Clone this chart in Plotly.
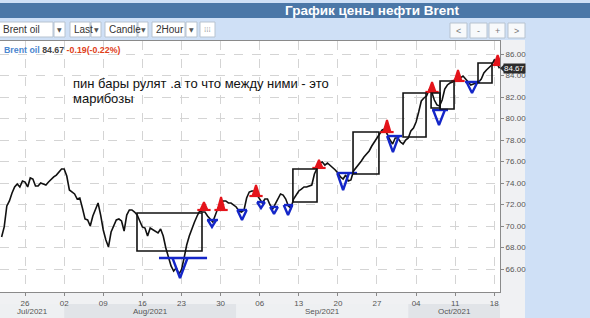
import numpy as np
import pandas as pd
import plotly.graph_objects as go

# ---------------- data ----------------
SESSION_START = "2021-07-21"
SESSION_END = "2021-10-18"
SESSION_HOURS = [0, 8, 16]          # three samples per trading day

PRICE = [68.98, 69.91, 71.86, 72.33, 73.07, 73.63, 73.91, 73.63, 74.19, 74.09,
         73.63, 74.47, 74.37, 73.72, 73.72, 74.00, 73.91, 73.81, 74.09, 74.37,
         74.56, 74.74, 75.02, 75.30, 75.30, 74.65, 73.35, 73.16, 72.98, 72.51,
         72.60, 71.67, 70.65, 70.56, 70.00, 70.93, 71.58, 72.14, 71.02, 69.63,
         68.70, 68.05, 69.44, 70.00, 70.56, 70.65, 70.47, 69.53, 71.02, 71.49,
         71.49, 71.30, 71.02, 70.47, 69.91, 69.81, 69.07, 69.81, 69.63, 69.53,
         69.35, 69.72, 69.07, 67.95, 67.02, 66.28, 65.81, 66.09, 65.53, 65.91,
         67.02, 68.23, 69.07, 69.81, 70.37, 70.93, 71.40, 71.30, 71.30, 70.93,
         70.65, 70.37, 71.02, 71.67, 72.05, 72.33, 72.33, 72.14, 72.14, 71.95,
         71.77, 71.40, 71.30, 71.49, 72.60, 73.16, 73.26, 73.26, 72.88, 72.42,
         72.14, 72.51, 72.51, 71.95, 71.58, 72.05, 72.60, 72.98, 72.88, 72.51,
         71.86, 71.67, 72.51, 72.88, 73.26, 73.44, 73.63, 73.63, 73.72, 73.81,
         74.84, 75.40, 75.86, 75.95, 75.67, 75.86, 75.67, 75.40, 75.21, 74.93,
         74.56, 74.37, 74.74, 74.19, 74.28, 75.12, 75.40, 75.77, 76.05, 76.42,
         76.70, 76.98, 77.44, 77.81, 78.09, 78.56, 78.93, 79.02, 78.47, 78.00,
         77.63, 78.19, 78.19, 77.81, 77.63, 78.00, 78.19, 78.84, 79.12, 79.67,
         80.60, 81.63, 81.91, 82.09, 82.65, 82.47, 81.72, 81.26, 81.16, 81.72,
         82.74, 83.12, 83.30, 83.40, 83.67, 83.95, 83.77, 83.95, 83.67, 83.40,
         83.12, 83.21, 83.30, 83.40, 83.67, 84.23, 84.51, 84.79, 84.98, 85.44,
         85.16, 84.67]
LAST_PRICE = 84.67

TICK_DATES = ["2021-07-26", "2021-08-02", "2021-08-09", "2021-08-16", "2021-08-23",
              "2021-08-30", "2021-09-06", "2021-09-13", "2021-09-20", "2021-09-27",
              "2021-10-04", "2021-10-11", "2021-10-18"]
TICK_LABELS = ["26", "02", "09", "16", "23", "30", "06", "13", "20", "27", "04", "11", "18"]
Y_TICKS = [66, 68, 70, 72, 74, 76, 78, 80, 82, 84, 86]

MONTH_LABELS = ["Jul/2021", "Aug/2021", "Sep/2021", "Oct/2021"]
MONTH_STARTS = ["2021-07-01", "2021-08-01", "2021-09-01", "2021-10-01"]
MONTH_ENDS = ["2021-08-01", "2021-09-01", "2021-10-01", "2021-11-01"]

# red pin bars (bearish)  : time, apex, base
RED_TIME = ["2021-08-25 21:00", "2021-08-30 01:30", "2021-09-03 12:45", "2021-09-15 14:00",
            "2021-09-28 06:45", "2021-10-06 01:00", "2021-10-11 08:40", "2021-10-18 10:20"]
RED_TOP = [72.23, 72.70, 73.81, 76.14, 79.86, 83.40, 84.51, 85.91]
RED_BASE = [71.49, 71.49, 72.79, 75.40, 78.74, 82.47, 83.49, 84.98]

# blue pin bars (bullish) : time, top line, tip, line start/end, leg half-width (days)
BLUE_TIME = ["2021-08-20 19:30", "2021-08-26 21:40", "2021-09-01 17:45", "2021-09-06 04:00",
             "2021-09-07 20:00", "2021-09-09 15:00", "2021-09-20 16:00", "2021-09-29 01:00",
             "2021-10-06 22:20", "2021-10-13 03:40"]
BLUE_TOP = [67.02, 70.56, 71.49, 72.23, 71.77, 71.95, 74.93, 78.37, 80.79, 83.40]
BLUE_TIP = [65.16, 69.91, 70.56, 71.67, 71.12, 71.02, 73.35, 76.88, 79.40, 82.37]
BLUE_LINE_FROM = ["2021-08-18 03:00", "2021-08-26 06:30", "2021-09-01 02:30", "2021-09-03 16:00",
                  "2021-09-07 07:40", "2021-09-09 02:40", "2021-09-17 21:20", "2021-09-28 06:45",
                  "2021-10-06 01:00", "2021-10-12 06:15"]
BLUE_LINE_TO = ["2021-08-26 06:30", "2021-08-27 16:00", "2021-09-02 09:00", "2021-09-06 16:00",
                "2021-09-08 08:30", "2021-09-10 06:15", "2021-09-22 10:50", "2021-09-30 04:50",
                "2021-10-08 02:00", "2021-10-14 04:20"]
BLUE_HALF = [0.96, 0.55, 0.6, 0.5, 0.5, 0.55, 0.75, 0.75, 0.75, 0.7]

# consolidation boxes
BOX_FROM = ["2021-08-13 07:30", "2021-09-10 06:00", "2021-09-21 22:30", "2021-09-30 08:00",
            "2021-10-05 22:00", "2021-10-07 01:30", "2021-10-13 22:00"]
BOX_TO = ["2021-08-25 15:00", "2021-09-15 08:00", "2021-09-27 06:00", "2021-10-05 06:30",
          "2021-10-07 01:30", "2021-10-08 20:30", "2021-10-15 17:00"]
BOX_TOP = [71.21, 75.30, 78.74, 82.37, 82.37, 83.49, 85.16]
BOX_BOTTOM = [67.67, 72.23, 74.84, 78.28, 80.98, 80.88, 83.30]

NOTE_LINES = ["пин бары рулят .а то что между ними - это", "марибозы"]
TITLE = "График цены нефти Brent"


# ------------- trading-day axis (weekends skipped) -------------
def tday(ts):
    ts = pd.Timestamp(ts)
    return float(np.busday_count(SESSION_START, ts.strftime("%Y-%m-%d"))) + (ts.hour + ts.minute / 60) / 24


days = pd.bdate_range(SESSION_START, SESSION_END)
times = [d + pd.Timedelta(hours=h) for d in days for h in SESSION_HOURS]
X = [tday(t) for t in times]

X_RANGE = [-0.205, 63.73]
Y_RANGE = [63.86, 87.21]

FONT = "Liberation Sans, Arial, sans-serif"
RED = "#e4141b"
BLUE = "#1426c8"

fig = go.Figure()

fig.add_trace(go.Scatter(x=X, y=PRICE, mode="lines",
                         line=dict(color="#111111", width=1.6), hoverinfo="skip"))

# red "A" pin bars: filled triangle + base bar
tx, ty, lx, ly = [], [], [], []
for t, top, base in zip(RED_TIME, RED_TOP, RED_BASE):
    c = tday(t)
    tx += [c - 0.45, c, c + 0.45, c - 0.45, None]
    ty += [base, top, base, base, None]
    lx += [c - 0.85, c + 0.85, None]
    ly += [base, base, None]
fig.add_trace(go.Scatter(x=tx, y=ty, mode="lines", fill="toself", fillcolor=RED,
                         line=dict(color=RED, width=2), hoverinfo="skip"))
fig.add_trace(go.Scatter(x=lx, y=ly, mode="lines", line=dict(color=RED, width=2.2), hoverinfo="skip"))

# blue "V" pin bars
bx, by = [], []
for t, top, tip, f, e, hw in zip(BLUE_TIME, BLUE_TOP, BLUE_TIP, BLUE_LINE_FROM, BLUE_LINE_TO, BLUE_HALF):
    c = tday(t)
    bx += [c - hw, c, c + hw, None, tday(f), tday(e), None]
    by += [top, tip, top, None, top, top, None]
fig.add_trace(go.Scatter(x=bx, y=by, mode="lines", line=dict(color=BLUE, width=2.4), hoverinfo="skip"))

shapes = []
for f, e, top, bot in zip(BOX_FROM, BOX_TO, BOX_TOP, BOX_BOTTOM):
    shapes.append(dict(type="rect", xref="x", yref="y", x0=tday(f), x1=tday(e), y0=bot, y1=top,
                       line=dict(color="#111111", width=1.6), fillcolor="rgba(0,0,0,0)", layer="above"))


# -------- page chrome (paper coordinates) --------
PLOT_W, PLOT_TOP, PLOT_BOTTOM = 500.0, 41.0, 292.0


def px(x):
    return x / PLOT_W


def py(y):
    return (PLOT_BOTTOM - y) / (PLOT_BOTTOM - PLOT_TOP)


PANEL = "#f0f1f3"
# grey panel around the plot (right strip + bottom strip)
shapes.append(dict(type="rect", xref="paper", yref="paper", x0=px(500), x1=px(525), y0=py(330), y1=py(40),
                   fillcolor=PANEL, line=dict(width=0), layer="below"))
shapes.append(dict(type="rect", xref="paper", yref="paper", x0=px(-5), x1=px(500), y0=py(330), y1=py(292),
                   fillcolor=PANEL, line=dict(width=0), layer="below"))
# title bar
shapes.append(dict(type="rect", xref="paper", yref="paper", x0=px(-5), x1=px(595), y0=py(18), y1=py(3),
                   fillcolor="#4b77a7", line=dict(width=0), layer="below"))

annotations = []
annotations.append(dict(xref="paper", yref="paper", x=px(372), y=py(10.5), text="<b>" + TITLE + "</b>",
                        showarrow=False, font=dict(family=FONT, size=13.5, color="white"),
                        xanchor="center", yanchor="middle"))

# toolbar drop-downs
DROPS = [("Brent oil", -6, 53, 65), ("Last", 70, 90, 101), ("Candle", 105, 137, 148), ("2Hour", 152, 185, 197)]
for label, x0, xa, x1 in DROPS:
    shapes.append(dict(type="rect", xref="paper", yref="paper", x0=px(x0), x1=px(xa), y0=py(37), y1=py(22),
                       fillcolor="white", line=dict(color="#b7c3d0", width=1), layer="below"))
    shapes.append(dict(type="rect", xref="paper", yref="paper", x0=px(xa + 1), x1=px(x1), y0=py(37), y1=py(22),
                       fillcolor="white", line=dict(color="#b7c3d0", width=1), layer="below"))
    annotations.append(dict(xref="paper", yref="paper", x=px(max(x0 + 2, 0.5)), y=py(29.5), text=label,
                            showarrow=False, xanchor="left", yanchor="middle",
                            font=dict(family=FONT, size=10, color="#333333")))
    annotations.append(dict(xref="paper", yref="paper", x=px((xa + 1 + x1) / 2), y=py(29.5), text="▼",
                            showarrow=False, xanchor="center", yanchor="middle",
                            font=dict(family="DejaVu Sans", size=6, color="#555555")))
shapes.append(dict(type="rect", xref="paper", yref="paper", x0=px(200), x1=px(215), y0=py(37), y1=py(22),
                   fillcolor="white", line=dict(color="#b7c3d0", width=1), layer="below"))
annotations.append(dict(xref="paper", yref="paper", x=px(207.5), y=py(29.5), text="⁞⁞⁞", showarrow=False,
                        xanchor="center", yanchor="middle", font=dict(family="DejaVu Sans", size=7, color="#999999")))

# navigation buttons
for label, x0, x1 in [("<", 450, 467), ("-", 470, 487), ("+", 489, 505), (">", 508, 525)]:
    shapes.append(dict(type="rect", xref="paper", yref="paper", x0=px(x0), x1=px(x1), y0=py(38), y1=py(23),
                       fillcolor="#f7f9fb", line=dict(color="#b7c3d0", width=1), layer="below"))
    annotations.append(dict(xref="paper", yref="paper", x=px((x0 + x1) / 2), y=py(30.5), text=label,
                            showarrow=False, xanchor="center", yanchor="middle",
                            font=dict(family=FONT, size=9, color="#777777")))

# instrument header
annotations.append(dict(xref="paper", yref="paper", x=px(2), y=py(50), xanchor="left", yanchor="middle",
                        showarrow=False, font=dict(family=FONT, size=8.8),
                        text='<b><span style="color:#4a86d0">Brent oil</span> '
                             '<span style="color:#444444">84.67</span> '
                             '<span style="color:#e0401a">-0.19(-0.22%)</span></b>'))

# note text
for i, line in enumerate(NOTE_LINES):
    annotations.append(dict(xref="paper", yref="paper", x=px(71), y=py(83 + 15 * i), text=line,
                            showarrow=False, xanchor="left", yanchor="middle",
                            font=dict(family=FONT, size=13, color="#111111")))

# month band under the date axis
MONTH_FILL = ["#eef0f2", "#e1e4e8", "#eef0f2", "#e1e4e8"]
for lab, s, e, col in zip(MONTH_LABELS, MONTH_STARTS, MONTH_ENDS, MONTH_FILL):
    a = max(tday(s), X_RANGE[0])
    b = min(tday(e), X_RANGE[1])
    shapes.append(dict(type="rect", xref="x", yref="paper", x0=a, x1=b, y0=py(318), y1=py(304),
                       fillcolor=col, line=dict(width=0), layer="below"))
    annotations.append(dict(xref="x", yref="paper", x=(a + b) / 2, y=py(311), text=lab, showarrow=False,
                            xanchor="center", yanchor="middle", font=dict(family=FONT, size=8, color="#555555")))

# last price tag
annotations.append(dict(xref="paper", yref="y", x=1.0, y=LAST_PRICE, xanchor="left", yanchor="middle",
                        xshift=3, text="84.67", showarrow=False, bgcolor="#2d2d2d", borderpad=0,
                        font=dict(family=FONT, size=8, color="white")))
shapes.append(dict(type="path", xref="paper", yref="y",
                   path=f"M 1.0,{LAST_PRICE} L {px(504)},{LAST_PRICE + 0.35} L {px(504)},{LAST_PRICE - 0.35} Z",
                   fillcolor="#2d2d2d", line=dict(width=0)))

fig.update_layout(
    width=590, height=318,
    margin=dict(l=0, r=90, t=41, b=26),
    paper_bgcolor="#cfe0f6", plot_bgcolor="white",
    showlegend=False,
    shapes=shapes, annotations=annotations,
    xaxis=dict(range=X_RANGE, tickmode="array", tickvals=[tday(d) for d in TICK_DATES], ticktext=TICK_LABELS,
               ticks="outside", ticklen=3, tickcolor="#888888",
               tickfont=dict(family=FONT, size=8, color="#555555"),
               showgrid=True, gridcolor="#d4d4d4", griddash="dash", gridwidth=1,
               showline=True, linecolor="#8a8a8a", linewidth=1, mirror=True, zeroline=False, fixedrange=True),
    yaxis=dict(range=Y_RANGE, side="right", tickmode="array", tickvals=Y_TICKS,
               ticktext=[f"{v:.2f}" for v in Y_TICKS],
               ticks="outside", ticklen=3, tickcolor="#888888",
               tickfont=dict(family=FONT, size=8, color="#555555"),
               showgrid=True, gridcolor="#d4d4d4", griddash="dash", gridwidth=1,
               showline=True, linecolor="#8a8a8a", linewidth=1, mirror=True, zeroline=False, fixedrange=True),
)

fig.write_html("out.html")
